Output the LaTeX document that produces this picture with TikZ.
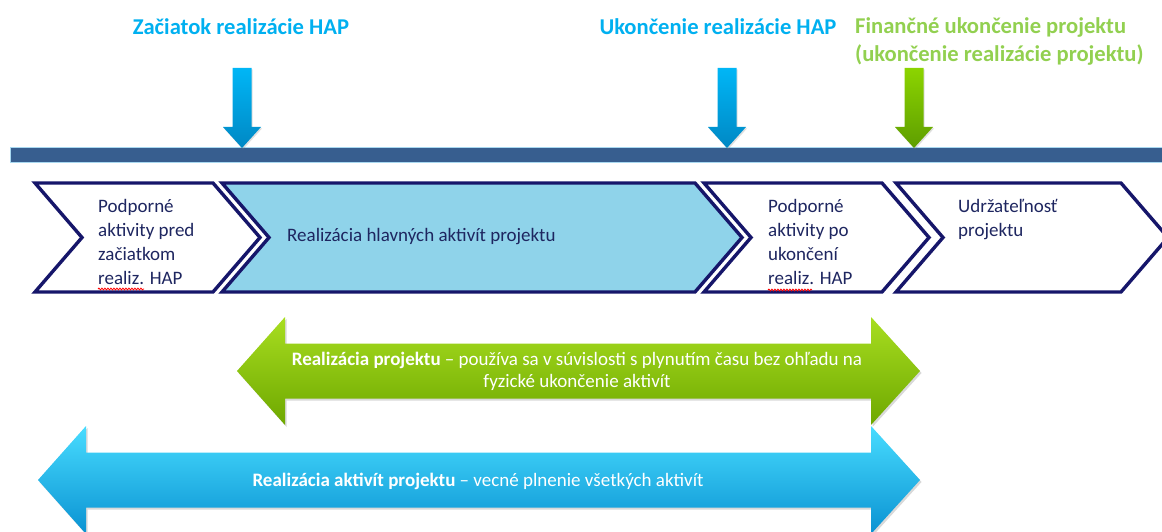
\documentclass[tikz,border=0pt]{standalone}
\usepackage{fontspec}
\setmainfont{Carlito}
\usepackage{tikz}
\usetikzlibrary{positioning,shadows,decorations.pathmorphing}

\definecolor{hapblue}{HTML}{00B0F0}
\definecolor{hapgreen}{HTML}{92D050}
\definecolor{barblue}{HTML}{375E8F}
\definecolor{barglow}{HTML}{A8D8F0}
\definecolor{chevnavy}{HTML}{16166A}
\definecolor{chevfill}{HTML}{8FD3EA}
\definecolor{textnavy}{HTML}{1E2660}
\definecolor{markblueA}{HTML}{00B6F6}
\definecolor{markblueB}{HTML}{0088C4}
\definecolor{markgreenA}{HTML}{8CD400}
\definecolor{markgreenB}{HTML}{5E9E00}
\definecolor{spangreenA}{HTML}{A8DE20}
\definecolor{spangreenM}{HTML}{88C800}
\definecolor{spangreenB}{HTML}{6EA800}
\definecolor{spanblueA}{HTML}{48DCFF}
\definecolor{spanblueM}{HTML}{0AB0F0}
\definecolor{spanblueB}{HTML}{0A92D2}

\tikzset{
  timebar/.style={fill=barblue, draw=barglow, line width=0.8pt},
  chevbox/.style={draw=chevnavy, line width=3.4pt, fill=white},
  chevmain/.style={chevbox, fill=chevfill},
  chevtext/.style={anchor=north west, inner sep=0pt, align=left, text=textnavy,
    font=\fontsize{19}{24}\selectfont},
  milelabel/.style={inner sep=0pt, font=\bfseries\fontsize{22.6}{28}\selectfont},
  bluemark/.style={top color=markblueA, bottom color=markblueB,
    drop shadow={opacity=0.25, shadow xshift=1pt, shadow yshift=-1.5pt}},
  greenmark/.style={top color=markgreenA, bottom color=markgreenB,
    drop shadow={opacity=0.25, shadow xshift=1pt, shadow yshift=-1.5pt}},
  spangreen/.style={top color=spangreenA, middle color=spangreenM, bottom color=spangreenB,
    drop shadow={opacity=0.3, shadow xshift=1.5pt, shadow yshift=-2pt}},
  spanblue/.style={top color=spanblueA, middle color=spanblueM, bottom color=spanblueB,
    drop shadow={opacity=0.3, shadow xshift=1.5pt, shadow yshift=-2pt}},
  spantext/.style={text=white, align=center, inner sep=0pt,
    font=\fontsize{19}{22}\selectfont},
  spellmark/.style={draw=red, line width=0.8pt, decorate,
    decoration={snake, amplitude=0.9pt, segment length=3pt}}
}

% chevron: left edge, right edge, style
\newcommand{\hapchevron}[3]{%
  \path[#3] (#1,183) -- (#2,183) -- ++(47,54.5) -- (#2,292) -- (#1,292) -- ++(47,-54.5) -- cycle;}
% down arrow onto the time bar: x, style
\newcommand{\hapmark}[2]{%
  \path[#2] (#1-9.5,68) -- (#1+9.5,68) -- (#1+9.5,127) -- (#1+19,127) -- (#1,148)
    -- (#1-19,127) -- (#1-9.5,127) -- cycle;}
% double arrow: left tip, right tip, middle, style
\newcommand{\hapspan}[4]{%
  \path[#4] (#1,#3) -- (#1+48,#3-54) -- (#1+48,#3-27.5) -- (#2-49,#3-27.5) -- (#2-49,#3-54)
    -- (#2,#3) -- (#2-49,#3+54) -- (#2-49,#3+27.5) -- (#1+48,#3+27.5) -- (#1+48,#3+54) -- cycle;}

\begin{document}
\begin{tikzpicture}[x=1pt,y=-1pt]
    \useasboundingbox (0,0) rectangle (1162,532);

    % draw time bar
    \path[timebar] (10,147) rectangle (1170,162);

    % draw milestone arrows
    \foreach \x/\s in {242/bluemark,727/bluemark,914/greenmark}
      \hapmark{\x}{\s};

    % draw milestone labels
    \node[milelabel, text=hapblue, anchor=base] (hapstart) at (241,35) {Začiatok realizácie HAP};
    \node[milelabel, text=hapblue, anchor=base] (hapend) at (718,35) {Ukončenie realizácie HAP};
    \node[milelabel, text=hapgreen, anchor=north west, align=left] (finend) at (855,17)
      {Finančné ukončenie projektu\\(ukončenie realizácie projektu)};

    % draw phase chevrons
    \foreach \l/\r/\s in {35/213/chevbox,222/695/chevmain,704/882/chevbox,896/1121/chevbox}
      \hapchevron{\l}{\r}{\s};

    % draw phase texts
    \node[chevtext] (prehap) at (98,199) {Podporné\\aktivity pred\\začiatkom\\realiz. HAP};
    \node[chevtext, anchor=base west] (mainhap) at (287,241) {Realizácia hlavných aktivít projektu};
    \node[chevtext] (posthap) at (768,199) {Podporné\\aktivity po\\ukončení\\realiz. HAP};
    \node[chevtext] (sustain) at (958,199) {Udržateľnosť\\projektu};

    % spelling marks
    \draw[spellmark] (98,289) -- (144,289);
    \draw[spellmark] (768,290) -- (812,290);

    % draw span arrows
    \hapspan{237}{920}{371}{spangreen}
    \hapspan{38}{920}{480}{spanblue}

    \node[spantext] (projspan) at (577,371)
      {\textbf{Realizácia projektu} – používa sa v súvislosti s plynutím času bez ohľadu na\\fyzické ukončenie aktivít};
    \node[spantext] (actspan) at (478,481)
      {\textbf{Realizácia aktivít projektu} – vecné plnenie všetkých aktivít};

  \end{tikzpicture}
\end{document}
